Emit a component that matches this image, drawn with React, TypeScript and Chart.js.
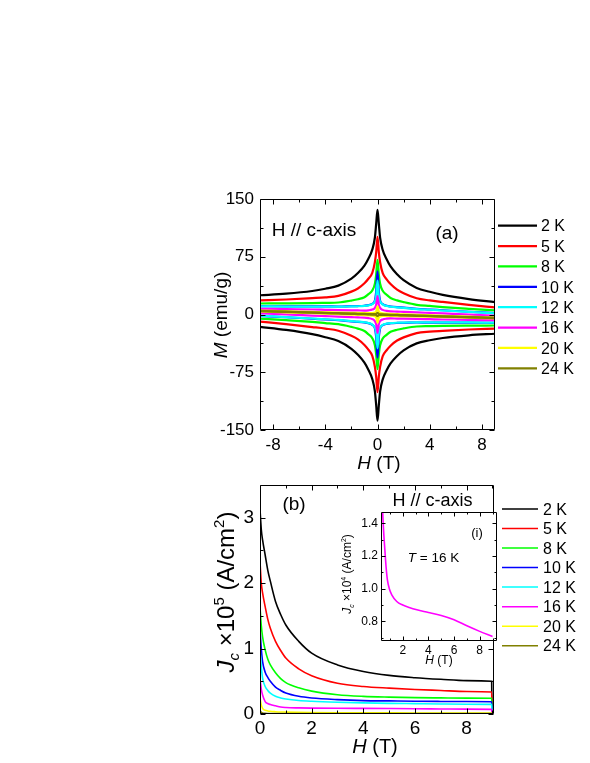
import React, { useEffect, useRef } from "react";
import { Chart, registerables } from "chart.js";
Chart.register(...registerables);

const FONT = '"Liberation Sans", Arial, Helvetica, sans-serif';

const TEMPS = ["2 K", "5 K", "8 K", "10 K", "12 K", "16 K", "20 K", "24 K"];
const COLORS = ["#000000", "#ff0000", "#00ff00", "#0000ff", "#00ffff", "#ff00ff", "#ffff00", "#808000"];

// ---------- Panel (a): M(H) loops ----------
const M_H = [-9, -7, -5, -4, -3, -2, -1.5, -1, -0.7, -0.4, -0.2, -0.1, 0, 0.1, 0.2, 0.4, 0.7, 1, 1.5, 2, 3, 4, 5, 7, 9];
const M_UP_2K = [25, 27, 30.5, 33.5, 37.5, 46.5, 53.8, 63.5, 72.4, 84.2, 100, 118, 136, 118, 99.9, 83.8, 71.7, 62.5, 52.3, 44.5, 34.5, 29.5, 25.5, 20, 16];
const M_DN_2K = [-16, -20, -25.5, -29.5, -34.5, -44.5, -52.3, -62.5, -71.7, -83.8, -99.9, -118, -138, -118, -100, -84.2, -72.4, -63.5, -53.8, -46.5, -37.5, -33.5, -30.5, -27, -25];
const M_UP_5K = [18.3, 19.5, 21.3, 22.3, 24.1, 29.7, 33.8, 40.5, 46.4, 54.2, 68.1, 81, 101, 81, 67.9, 53.8, 45.7, 39.5, 32.3, 27.7, 21.1, 18.3, 16.3, 12.5, 9.3];
const M_DN_5K = [-9.3, -12.5, -16.3, -18.3, -21.1, -27.7, -32.3, -39.5, -45.7, -53.8, -67.9, -81, -101, -81, -68.1, -54.2, -46.4, -40.5, -33.8, -29.7, -24.1, -22.3, -21.3, -19.5, -18.3];
const M_UP_8K = [14.3, 14.4, 14.7, 15.1, 15.6, 18.1, 19.8, 22.5, 26.4, 31.2, 40.1, 52, 71, 52, 39.9, 30.8, 25.7, 21.5, 18.3, 16.1, 12.6, 11.1, 9.7, 7.4, 5.3];
const M_DN_8K = [-5.3, -7.4, -9.7, -11.1, -12.6, -16.1, -18.3, -21.5, -25.7, -30.8, -39.9, -52, -71, -52, -40.1, -31.2, -26.4, -22.5, -19.8, -18.1, -15.6, -15.1, -14.7, -14.4, -14.3];
const M_UP_10K = [10.8, 10.6, 10.5, 10.5, 10.4, 10.9, 11, 11.4, 12.1, 13.9, 18, 30, 56, 29.9, 17.8, 13.4, 11.3, 10.4, 9.5, 8.9, 7.4, 6.5, 5.5, 3.6, 1.8];
const M_DN_10K = [-1.8, -3.6, -5.5, -6.5, -7.4, -8.9, -9.5, -10.4, -11.3, -13.4, -17.8, -29.9, -56, -30, -18, -13.9, -12.1, -11.4, -11, -10.9, -10.4, -10.5, -10.5, -10.6, -10.8];
const M_UP_12K = [10.5, 10.3, 10.2, 10.2, 10.1, 10.6, 10.7, 11.1, 11.8, 13.5, 17.1, 24, 44, 24, 16.9, 13.1, 11, 10.1, 9.2, 8.6, 7.1, 6.2, 5.2, 3.3, 1.5];
const M_DN_12K = [-1.5, -3.3, -5.2, -6.2, -7.1, -8.6, -9.2, -10.1, -11, -13.1, -16.9, -24, -44, -24, -17.1, -13.5, -11.8, -11.1, -10.7, -10.6, -10.1, -10.2, -10.2, -10.3, -10.5];
const M_UP_16K = [7.4, 6.9, 6.5, 6.1, 5.7, 5.4, 5.3, 5.1, 5.4, 6.4, 8.7, 12.7, 24, 12.6, 8.5, 6, 4.7, 4.1, 3.8, 3.4, 2.7, 2.1, 1.5, -0.1, -1.6];
const M_DN_16K = [1.6, 0.1, -1.5, -2.1, -2.7, -3.4, -3.8, -4.1, -4.7, -6, -8.5, -12.6, -24, -12.7, -8.7, -6.4, -5.4, -5.1, -5.3, -5.4, -5.7, -6.1, -6.5, -6.9, -7.4];
const M_UP_20K = [5.1, 4.2, 3.3, 2.9, 2.4, 2.1, 2, 1.8, 1.8, 1.9, 2.5, 3.8, 10.6, 3.7, 2.3, 1.5, 1.1, 0.8, 0.5, 0.1, -0.6, -1.1, -1.7, -2.8, -3.9];
const M_DN_20K = [3.9, 2.8, 1.7, 1.1, 0.6, -0.1, -0.5, -0.8, -1.1, -1.5, -2.3, -3.7, -10.6, -3.8, -2.5, -1.9, -1.8, -1.8, -2, -2.1, -2.4, -2.9, -3.3, -4.2, -5.1];
const M_UP_24K = [4.7, 3.7, 2.7, 2.2, 1.7, 1.2, 1, 0.7, 0.6, 0.5, 0.5, 0.8, 2.2, 0.7, 0.3, 0.1, -0.1, -0.3, -0.6, -0.8, -1.3, -1.8, -2.3, -3.3, -4.3];
const M_DN_24K = [4.3, 3.3, 2.3, 1.8, 1.3, 0.8, 0.6, 0.3, 0.1, -0.1, -0.3, -0.7, -2.2, -0.8, -0.5, -0.5, -0.6, -0.7, -1, -1.2, -1.7, -2.2, -2.7, -3.7, -4.7];
const M_UP = [M_UP_2K, M_UP_5K, M_UP_8K, M_UP_10K, M_UP_12K, M_UP_16K, M_UP_20K, M_UP_24K];
const M_DN = [M_DN_2K, M_DN_5K, M_DN_8K, M_DN_10K, M_DN_12K, M_DN_16K, M_DN_20K, M_DN_24K];

const TOP_X_TICKS = [-8, -4, 0, 4, 8];
const TOP_X_MINOR = [-6, -2, 2, 6];
const TOP_Y_TICKS = [-150, -75, 0, 75, 150];
const TOP_Y_MINOR = [-112.5, -37.5, 37.5, 112.5];

// ---------- Panel (b): Jc(H) ----------
const JC_H = [0, 0.05, 0.1, 0.2, 0.3, 0.4, 0.6, 0.8, 1, 1.5, 2, 3, 4, 5, 6, 7, 8, 8.97, 8.98];
const JC_2K = [3.13, 2.82, 2.66, 2.43, 2.2, 2.03, 1.72, 1.52, 1.36, 1.11, 0.93, 0.75, 0.65, 0.59, 0.555, 0.53, 0.51, 0.5, 0];
const JC_5K = [2.33, 2.0, 1.85, 1.64, 1.45, 1.31, 1.11, 0.97, 0.855, 0.69, 0.585, 0.47, 0.42, 0.395, 0.375, 0.36, 0.345, 0.336, 0];
const JC_8K = [1.64, 1.35, 1.18, 0.98, 0.84, 0.75, 0.63, 0.54, 0.48, 0.4, 0.35, 0.295, 0.27, 0.258, 0.25, 0.246, 0.243, 0.24, 0];
const JC_10K = [1.29, 1.0, 0.8, 0.64, 0.56, 0.5, 0.41, 0.36, 0.32, 0.27, 0.245, 0.22, 0.205, 0.2, 0.195, 0.192, 0.19, 0.188, 0];
const JC_12K = [1.0, 0.72, 0.55, 0.42, 0.36, 0.32, 0.27, 0.245, 0.23, 0.207, 0.195, 0.18, 0.17, 0.163, 0.158, 0.153, 0.15, 0.147, 0];
const JC_16K = [0.55, 0.38, 0.29, 0.19, 0.16, 0.145, 0.125, 0.106, 0.099, 0.093, 0.09, 0.087, 0.0855, 0.0836, 0.081, 0.0773, 0.0739, 0.0708, 0];
const JC_20K = [0.245, 0.14, 0.085, 0.058, 0.047, 0.041, 0.035, 0.031, 0.029, 0.025, 0.022, 0.019, 0.018, 0.017, 0.016, 0.016, 0.015, 0.015, 0];
const JC_24K = [0.05, 0.025, 0.015, 0.01, 0.008, 0.007, 0.006, 0.006, 0.005, 0.005, 0.005, 0.005, 0.005, 0.005, 0.005, 0.005, 0.005, 0.005, 0];
const JC = [JC_2K, JC_5K, JC_8K, JC_10K, JC_12K, JC_16K, JC_20K, JC_24K];

const BOT_X_TICKS = [0, 2, 4, 6, 8];
const BOT_X_MINOR = [1, 3, 5, 7, 9];
const BOT_Y_TICKS = [0, 1, 2, 3];
const BOT_Y_MINOR = [0.5, 1.5, 2.5];

// ---------- Inset (i): Jc at 16 K ----------
const INSET_H = [0.38, 0.43, 0.5, 0.62, 0.7, 0.8, 0.95, 1.14, 1.53, 2, 2.5, 3.1, 4, 5, 6, 7, 8, 9];
const INSET_JC = [1.6, 1.47, 1.36, 1.217, 1.13, 1.054, 1.0, 0.963, 0.922, 0.9, 0.885, 0.871, 0.855, 0.836, 0.81, 0.773, 0.739, 0.708];
const INSET_X_TICKS = [2, 4, 6, 8];
const INSET_X_MINOR = [1, 3, 5, 7, 9];
const INSET_Y_TICKS = [0.8, 1.0, 1.2, 1.4];
const INSET_Y_MINOR = [0.7, 0.9, 1.1, 1.3];

type Seg = { t: string; it?: boolean; sub?: boolean; sup?: boolean };

function drawRich(ctx: CanvasRenderingContext2D, segs: Seg[], cx: number, cy: number, size: number, rotate = false) {
  ctx.save();
  ctx.translate(cx, cy);
  if (rotate) ctx.rotate(-Math.PI / 2);
  const small = Math.round(size * 0.62);
  const font = (s: Seg) => `${s.it ? "italic " : ""}${s.sub || s.sup ? small : size}px ${FONT}`;
  let w = 0;
  for (const s of segs) {
    ctx.font = font(s);
    w += ctx.measureText(s.t).width;
  }
  let x = -w / 2;
  const base = size * 0.358;
  ctx.fillStyle = "#000";
  ctx.textAlign = "left";
  ctx.textBaseline = "alphabetic";
  for (const s of segs) {
    ctx.font = font(s);
    const dy = s.sub ? size * 0.22 : s.sup ? -size * 0.42 : 0;
    ctx.fillText(s.t, x, base + dy);
    x += ctx.measureText(s.t).width;
  }
  ctx.restore();
}

function drawFrame(chart: any, xMaj: number[], xMin: number[], yMaj: number[], yMin: number[], maj: number, min: number) {
  const { ctx, chartArea: a, scales } = chart;
  const xs = scales.x;
  const ys = scales.y;
  const L = Math.round(a.left) + 0.5;
  const R = Math.round(a.right) - 0.5;
  const T = Math.round(a.top) + 0.5;
  const B = Math.round(a.bottom) - 0.5;
  ctx.save();
  ctx.strokeStyle = "#000";
  ctx.lineWidth = 1;
  ctx.beginPath();
  ctx.rect(L, T, R - L, B - T);
  const tx = (v: number, len: number) => {
    const p = Math.round(xs.getPixelForValue(v)) + 0.5;
    ctx.moveTo(p, B);
    ctx.lineTo(p, B - len);
    ctx.moveTo(p, T);
    ctx.lineTo(p, T + len);
  };
  const ty = (v: number, len: number) => {
    const p = Math.round(ys.getPixelForValue(v)) + 0.5;
    ctx.moveTo(L, p);
    ctx.lineTo(L + len, p);
    ctx.moveTo(R, p);
    ctx.lineTo(R - len, p);
  };
  xMaj.forEach((v) => tx(v, maj));
  xMin.forEach((v) => tx(v, min));
  yMaj.forEach((v) => ty(v, maj));
  yMin.forEach((v) => ty(v, min));
  ctx.stroke();
  ctx.restore();
}

function drawLegend(ctx: CanvasRenderingContext2D, x0: number, x1: number, tx: number, y0: number, step: number, lw: number, size: number) {
  ctx.save();
  TEMPS.forEach((t, i) => {
    const y = y0 + i * step;
    ctx.strokeStyle = COLORS[i];
    ctx.lineWidth = lw;
    ctx.beginPath();
    ctx.moveTo(x0, y);
    ctx.lineTo(x1, y);
    ctx.stroke();
    ctx.fillStyle = "#000";
    ctx.font = `${size}px ${FONT}`;
    ctx.textAlign = "left";
    ctx.textBaseline = "alphabetic";
    ctx.fillText(t, tx, y + size * 0.358);
  });
  ctx.restore();
}

function scaleOpts(min: number, max: number, ticks: number[], fmt: (v: number) => string, size: number, pad: number, fit: (s: any) => void) {
  return {
    type: "linear" as const,
    min,
    max,
    grid: { display: false, drawTicks: false },
    border: { display: false },
    ticks: {
      autoSkip: false,
      maxRotation: 0,
      minRotation: 0,
      padding: pad,
      color: "#000",
      font: { family: FONT, size },
      callback: (v: any) => fmt(Number(v)),
    },
    afterBuildTicks: (s: any) => {
      s.ticks = ticks.map((v) => ({ value: v }));
    },
    afterFit: fit,
  };
}

const baseOptions = (padding: any) => ({
  responsive: false,
  animation: false as const,
  events: [] as any[],
  layout: { padding, autoPadding: false },
  plugins: { legend: { display: false }, tooltip: { enabled: false }, title: { display: false } },
});

function makeTop(canvas: HTMLCanvasElement) {
  const datasets: any[] = [];
  TEMPS.forEach((t, i) => {
    [M_UP[i], M_DN[i]].forEach((arr) =>
      datasets.push({
        label: t,
        data: M_H.map((h, k) => ({ x: h, y: arr[k] })),
        borderColor: COLORS[i],
        borderWidth: 2.2,
        pointRadius: 0,
        fill: false,
        cubicInterpolationMode: "monotone",
        order: -i,
      })
    );
  });
  return new Chart(canvas, {
    type: "line",
    data: { datasets },
    options: {
      ...baseOptions({ left: 210, top: 199, right: 95, bottom: 303 }),
      scales: {
        x: scaleOpts(-9, 9, TOP_X_TICKS, (v) => String(v), 17, 5, (s) => { s.height = 30; }),
        y: scaleOpts(-150, 150, TOP_Y_TICKS, (v) => String(v), 17, 6, (s) => { s.width = 50; }),
      },
    } as any,
    plugins: [
      {
        id: "topDecor",
        afterDraw(chart: any) {
          const ctx = chart.ctx;
          drawFrame(chart, TOP_X_TICKS, TOP_X_MINOR, TOP_Y_TICKS, TOP_Y_MINOR, 5, 3);
          drawRich(ctx, [{ t: "H // c-axis" }], 314, 229, 19);
          drawRich(ctx, [{ t: "(a)" }], 447, 232, 19);
          drawRich(ctx, [{ t: "M", it: true }, { t: " (emu/g)" }], 220, 315, 19, true);
          drawRich(ctx, [{ t: "H", it: true }, { t: " (T)" }], 379, 462.5, 19);
          drawLegend(ctx, 498, 537, 541, 225.7, 20.37, 2.2, 16);
        },
      },
    ],
  });
}

function makeBottom(canvas: HTMLCanvasElement) {
  const datasets = TEMPS.map((t, i) => ({
    label: t,
    data: JC_H.map((h, k) => ({ x: h, y: JC[i][k] })),
    borderColor: COLORS[i],
    borderWidth: 1.6,
    pointRadius: 0,
    fill: false,
    cubicInterpolationMode: "monotone",
    order: -i,
  }));
  return new Chart(canvas, {
    type: "line",
    data: { datasets },
    options: {
      ...baseOptions({ left: 210, top: 485, right: 96, bottom: 19 }),
      scales: {
        x: scaleOpts(0, 9.06, BOT_X_TICKS, (v) => String(v), 19, 3, (s) => { s.height = 30; }),
        y: scaleOpts(0, 3.5, BOT_Y_TICKS, (v) => String(v), 19, 6, (s) => { s.width = 50; }),
      },
    } as any,
    plugins: [
      {
        id: "botDecor",
        afterDraw(chart: any) {
          const ctx = chart.ctx;
          drawFrame(chart, BOT_X_TICKS, BOT_X_MINOR, BOT_Y_TICKS, BOT_Y_MINOR, 5, 3);
          drawRich(ctx, [{ t: "(b)" }], 294, 503, 19);
          drawRich(ctx, [{ t: "H // c-axis" }], 432.5, 500, 18);
          drawRich(
            ctx,
            [{ t: "J", it: true }, { t: "c", it: true, sub: true }, { t: " ×10" }, { t: "5", sup: true }, { t: " (A/cm" }, { t: "2", sup: true }, { t: ")" }],
            225,
            592,
            24,
            true
          );
          drawRich(ctx, [{ t: "H", it: true }, { t: " (T)" }], 375, 746, 20);
          drawLegend(ctx, 502, 538, 543, 509, 19.53, 1.5, 16);
        },
      },
    ],
  });
}

function makeInset(canvas: HTMLCanvasElement) {
  return new Chart(canvas, {
    type: "line",
    data: {
      datasets: [
        {
          label: "16 K",
          data: INSET_H.map((h, k) => ({ x: h, y: INSET_JC[k] })),
          borderColor: COLORS[5],
          borderWidth: 1.6,
          pointRadius: 0,
          fill: false,
          cubicInterpolationMode: "monotone",
        },
      ],
    },
    options: {
      ...baseOptions({ left: 351, top: 512, right: 93, bottom: 102 }),
      scales: {
        x: scaleOpts(0.3, 9.35, INSET_X_TICKS, (v) => String(v), 12, 2, (s) => { s.height = 20; }),
        y: scaleOpts(0.68, 1.47, INSET_Y_TICKS, (v) => v.toFixed(1), 12, 3, (s) => { s.width = 30; }),
      },
    } as any,
    plugins: [
      {
        id: "insetBg",
        beforeDraw(chart: any) {
          const { ctx, chartArea: a } = chart;
          ctx.save();
          ctx.fillStyle = "#fff";
          ctx.fillRect(a.left, a.top, a.right - a.left, a.bottom - a.top);
          ctx.restore();
        },
        afterDraw(chart: any) {
          const ctx = chart.ctx;
          drawFrame(chart, INSET_X_TICKS, INSET_X_MINOR, INSET_Y_TICKS, INSET_Y_MINOR, 4, 2);
          drawRich(ctx, [{ t: "(i)" }], 477, 532, 13);
          drawRich(ctx, [{ t: "T", it: true }, { t: " = 16 K" }], 433.5, 557, 13.5);
          drawRich(
            ctx,
            [{ t: "J", it: true }, { t: "c", it: true, sub: true }, { t: " ×10" }, { t: "4", sup: true }, { t: " (A/cm" }, { t: "2", sup: true }, { t: ")" }],
            347,
            574,
            12,
            true
          );
          drawRich(ctx, [{ t: "H", it: true }, { t: " (T)" }], 439, 660, 12);
        },
      },
    ],
  });
}

function ChartCanvas({ make }: { make: (c: HTMLCanvasElement) => Chart }) {
  const ref = useRef<HTMLCanvasElement>(null);
  useEffect(() => {
    const ch = make(ref.current as HTMLCanvasElement);
    return () => ch.destroy();
  }, [make]);
  return (
    <canvas
      ref={ref}
      width={590}
      height={763}
      style={{ position: "absolute", left: 0, top: 0, width: 590, height: 763 }}
    />
  );
}

export default function App() {
  return (
    <div style={{ position: "absolute", left: 0, top: 0, width: 590, height: 763, background: "#fff", overflow: "hidden" }}>
      <ChartCanvas make={makeTop} />
      <ChartCanvas make={makeBottom} />
      <ChartCanvas make={makeInset} />
    </div>
  );
}
